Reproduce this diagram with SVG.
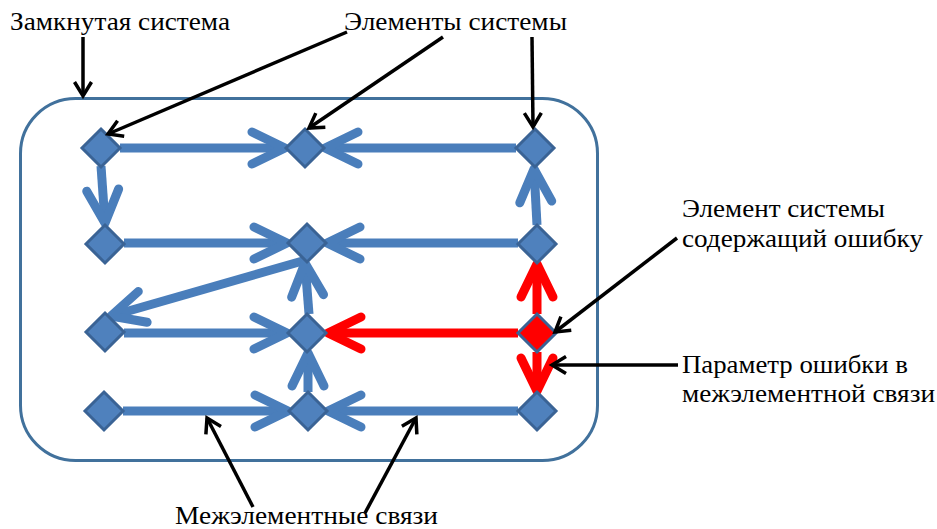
<svg xmlns="http://www.w3.org/2000/svg" xmlns:xlink="http://www.w3.org/1999/xlink" width="937" height="529" viewBox="0 0 937 529">
<style>
.lbl{font-family:"Liberation Serif","Times New Roman",serif;font-size:26px;fill:#000}
.cb{fill:none;stroke:#4A7EBB;stroke-width:9;marker-end:url(#ab)}
.cr{fill:none;stroke:#FF0000;stroke-width:9;marker-end:url(#ar)}
.ck{fill:none;stroke:#000;stroke-width:3.5;marker-end:url(#ak)}
.dm{fill:#4F81BD;stroke:#3A6395;stroke-width:3}
.dr{fill:#FF0000;stroke:#3A6395;stroke-width:3}
</style>
<defs>
<marker id="ab" markerUnits="userSpaceOnUse" viewBox="-40 -22 46 44" markerWidth="46" markerHeight="44" refX="0" refY="0" orient="auto" overflow="visible">
<path d="M-33,-16 L0,0 L-33,16" fill="none" stroke="#4A7EBB" stroke-width="9" stroke-linecap="round" stroke-linejoin="round"/>
</marker>
<marker id="ar" markerUnits="userSpaceOnUse" viewBox="-40 -22 46 44" markerWidth="46" markerHeight="44" refX="0" refY="0" orient="auto" overflow="visible">
<path d="M-33,-16 L0,0 L-33,16" fill="none" stroke="#FF0000" stroke-width="9" stroke-linecap="round" stroke-linejoin="round"/>
</marker>
<marker id="ak" markerUnits="userSpaceOnUse" viewBox="-20 -12 24 24" markerWidth="24" markerHeight="24" refX="0" refY="0" orient="auto" overflow="visible">
<path d="M-14,-8.5 L0,0 L-14,8.5" fill="none" stroke="#000" stroke-width="3.5" stroke-linecap="butt" stroke-linejoin="miter"/>
</marker>
<path id="d" d="M0,-19 L19,0 L0,19 L-19,0 Z"/>
</defs>
<rect id="system" x="20.5" y="98.5" width="577" height="362" rx="55" ry="55" fill="none" stroke="#41719C" stroke-width="3"/>
<g id="connectors">
<line class="cb" x1="120" y1="148" x2="285" y2="148"/>
<line class="cb" x1="516" y1="148" x2="325" y2="148"/>
<line class="cb" x1="537" y1="225" x2="534" y2="169"/>
<line class="cb" x1="101" y1="166" x2="105" y2="223"/>
<line class="cb" x1="124" y1="243" x2="287" y2="243"/>
<line class="cb" x1="518" y1="243" x2="327" y2="243"/>
<line class="cb" x1="306" y1="260" x2="111" y2="316"/>
<line class="cb" x1="124" y1="333" x2="287" y2="333"/>
<line class="cb" x1="309" y1="314" x2="305" y2="263"/>
<line class="cr" x1="518" y1="333" x2="328" y2="333"/>
<line class="cr" x1="537" y1="314" x2="537" y2="264"/>
<line class="cr" x1="537" y1="352" x2="537" y2="391"/>
<line class="cb" x1="123" y1="411" x2="288" y2="411"/>
<line class="cb" x1="518" y1="411" x2="328" y2="411"/>
<line class="cb" x1="308" y1="392" x2="308" y2="353"/>
</g>
<g id="n-a1" transform="translate(101,148)"><use xlink:href="#d" href="#d" class="dm"/></g>
<g id="n-a2" transform="translate(305,148)"><use xlink:href="#d" href="#d" class="dm"/></g>
<g id="n-a3" transform="translate(535,148)"><use xlink:href="#d" href="#d" class="dm"/></g>
<g id="n-b1" transform="translate(105,244)"><use xlink:href="#d" href="#d" class="dm"/></g>
<g id="n-b2" transform="translate(307,243)"><use xlink:href="#d" href="#d" class="dm"/></g>
<g id="n-b3" transform="translate(537,244)"><use xlink:href="#d" href="#d" class="dm"/></g>
<g id="n-c1" transform="translate(105,332)"><use xlink:href="#d" href="#d" class="dm"/></g>
<g id="n-c2" transform="translate(307,333)"><use xlink:href="#d" href="#d" class="dm"/></g>
<g id="n-c3" transform="translate(537,333)"><use xlink:href="#d" href="#d" class="dr"/></g>
<g id="n-d1" transform="translate(104,411)"><use xlink:href="#d" href="#d" class="dm"/></g>
<g id="n-d2" transform="translate(308,411)"><use xlink:href="#d" href="#d" class="dm"/></g>
<g id="n-d3" transform="translate(537,411)"><use xlink:href="#d" href="#d" class="dm"/></g>
<g id="callouts">
<line class="ck" x1="83" y1="37" x2="83" y2="96"/>
<line class="ck" x1="347" y1="32" x2="108" y2="134"/>
<line class="ck" x1="443" y1="37" x2="309" y2="128"/>
<line class="ck" x1="532" y1="37" x2="533" y2="127"/>
<line class="ck" x1="677" y1="238" x2="555" y2="332"/>
<line class="ck" x1="678" y1="365" x2="552" y2="365"/>
<line class="ck" x1="253" y1="507" x2="207" y2="418"/>
<line class="ck" x1="365" y1="513" x2="416" y2="418"/>
</g>
<g id="labels">
<text class="lbl" x="10" y="30" textLength="220" lengthAdjust="spacingAndGlyphs">Замкнутая система</text>
<text class="lbl" x="344" y="30" textLength="223" lengthAdjust="spacingAndGlyphs">Элементы системы</text>
<text class="lbl" x="682" y="217" textLength="203" lengthAdjust="spacingAndGlyphs">Элемент системы</text>
<text class="lbl" x="682" y="247" textLength="241" lengthAdjust="spacingAndGlyphs">содержащий ошибку</text>
<text class="lbl" x="682" y="373" textLength="226" lengthAdjust="spacingAndGlyphs">Параметр ошибки в</text>
<text class="lbl" x="682" y="402" textLength="253" lengthAdjust="spacingAndGlyphs">межэлементной связи</text>
<text class="lbl" x="175" y="524" textLength="263" lengthAdjust="spacingAndGlyphs">Межэлементные связи</text>
</g>
</svg>
